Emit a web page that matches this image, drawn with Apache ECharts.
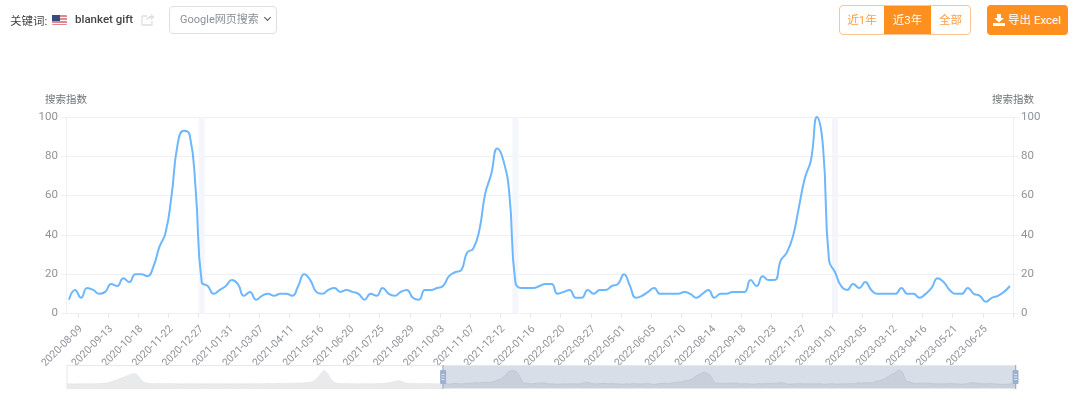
<!DOCTYPE html>
<html><head><meta charset="utf-8">
<script src="https://cdn.jsdelivr.net/npm/echarts@6/dist/echarts.min.js"></script>
<style>
html,body{margin:0;padding:0;background:#fff;width:1080px;height:407px;overflow:hidden;font-family:Roboto,"Noto Sans CJK SC",sans-serif}
#chart{position:absolute;left:0;top:0;width:1080px;height:407px}
.t{position:absolute;white-space:nowrap}
.flag{position:absolute;left:52px;top:15px;width:15px;height:10px;background:repeating-linear-gradient(#d98a8f 0 2px,#fff 2px 3px);border-radius:1px}
.flag:before{content:"";position:absolute;left:0;top:0;width:8px;height:6px;background:#3a4a7c}
.sel{position:absolute;left:169px;top:6px;width:108px;height:28px;border:1px solid #dcdfe6;border-radius:4px;box-sizing:border-box;font-size:11px;color:#8a8f98;line-height:26px;padding-left:10px}
.sel:after{content:"";position:absolute;right:6px;top:8px;width:4px;height:4px;border-right:1.6px solid #555;border-bottom:1.6px solid #555;transform:rotate(45deg)}
.group{position:absolute;left:839px;top:5px;width:132px;height:30px;border:1px solid #fdc58f;border-radius:4px;box-sizing:border-box;display:flex;font-size:11.5px;color:#ff9f45;line-height:28px;text-align:center}
.group div{flex:none;width:44px}.group .on{background:#ff9020;color:#fff;width:47px}.group .last{width:39px}
.xl{position:absolute;left:987px;top:5px;width:81px;height:30px;background:#ff9020;border-radius:4px;color:#fff;font-size:11.5px;line-height:30px;text-align:right;padding-right:7px;box-sizing:border-box}
.xl svg{position:absolute;left:6px;top:9px}
</style></head>
<body>
<div id="chart"></div>
<div class="t" style="left:10px;top:12px;font-size:11.5px;color:#444">关键词:</div>
<div class="flag"></div>
<div class="t" style="left:75px;top:12px;font-size:11.5px;font-weight:500;color:#444">blanket gift</div>
<svg class="t" style="left:141px;top:13px" width="14" height="13" viewBox="0 0 14 13"><path d="M1 3h5M1 3v9h10V8" fill="none" stroke="#dcdfe4" stroke-width="1.3"/><path d="M5 8c0-3 3-5 5-5V1l3.500 3L10 7V5C8 5 6 6 5 8z" fill="#dcdfe4"/></svg>
<div class="sel">Google网页搜索</div>
<div class="group"><div>近1年</div><div class="on">近3年</div><div class="last">全部</div></div>
<div class="xl"><svg width="12" height="12" viewBox="0 0 12 12"><path d="M4 0h4v4h3L6 8.500 1 4h3zM0 9h12v3H0z" fill="#fff"/></svg>导出 Excel</div>
<script>
// Weekly search index. Earlier weeks are only visible in the slider overview.
const firstWeek = '2018-08-12';
const earlyValues = [
  10,10,9,10,10,11,10,11,11,12,12,15,22,30,38,47,56,66,74,
  72,42,20,13,11,11,12,11,11,12,11,11,10,10,11,10,11,11,10,10,
  11,11,10,11,11,10,10,11,11,10,10,11,10,11,11,12,12,11,12,12,
  13,13,14,14,15,15,17,19,27,42,72,96,74,32,15,12,11,12,11,11,
  10,10,11,10,11,11,12,13,16,18,25,30,26,16,13,12,12,11,11,12,
  11,11,10
];
const visibleValues = [
  7,12,8,13,12,10,11,15,14,18,16,20,20,19,24,34,41,60,86,93,
  91,63,16,14,10,12,14,17,15,9,11,7,9,10,9,10,10,9,14,20,
  17,11,10,12,13,11,12,11,10,7,10,9,13,10,9,11,12,8,7,12,
  12,13,14,19,21,22,31,33,42,61,71,84,78,61,16,13,13,13,14,15,
  15,10,11,12,8,8,12,10,12,12,14,15,20,14,8,9,11,13,10,10,
  10,10,11,10,8,10,12,8,10,10,11,11,11,17,14,19,17,17,27,31,
  39,54,69,78,100,85,27,21,14,12,15,13,16,12,10,10,10,10,13,10,
  10,8,10,13,18,16,12,10,10,13,10,9,6,8,9,11,14
];
const searchIndex = earlyValues.concat(visibleValues);
const holidayWeeks = ['2020-12-27','2021-12-26','2023-01-01'];
const tickEveryWeeks = 5;
const firstLabelWeek = '2020-08-09';

const categories = [];
{
  const d = new Date(firstWeek + 'T00:00:00Z');
  for (let i = 0; i < searchIndex.length; i++) {
    categories.push(d.toISOString().slice(0,10));
    d.setUTCDate(d.getUTCDate() + 7);
  }
}
const firstLabelIdx = categories.indexOf(firstLabelWeek);
const holidayBars = categories.map(c => holidayWeeks.includes(c) ? 100 : null);
const startIdx = earlyValues.length;
const endIdx = categories.length - 1;

const chart = echarts.init(document.getElementById('chart'), null, {renderer:'canvas'});
const axisLabelColor = '#8f9299', lineColor = '#eef0f5';
const yAxisBase = {
  type:'value', min:0, max:100, interval:20, name:'搜索指数',
  nameGap:11, nameTextStyle:{color:'#707378',fontSize:10.500,fontFamily:'Roboto,"Noto Sans CJK SC"'},
  axisLine:{show:true,lineStyle:{color:lineColor}},
  axisTick:{show:true,length:5,lineStyle:{color:lineColor}},
  axisLabel:{color:axisLabelColor,fontSize:11.500,fontFamily:'Roboto'}
};
const onTick = (i)=>((i-firstLabelIdx)%tickEveryWeeks+tickEveryWeeks)%tickEveryWeeks===0;
chart.setOption({
  animation:false,
  grid:{left:66,right:67,top:117,bottom:93.5,containLabel:false},
  xAxis:{
    type:'category', data:categories, boundaryGap:true,
    axisLine:{lineStyle:{color:lineColor}},
    axisTick:{show:true,length:4,lineStyle:{color:'#e3e5ea'},interval:onTick},
    axisLabel:{rotate:45,color:axisLabelColor,fontSize:10.500,margin:14,fontFamily:'Roboto',hideOverlap:false,interval:onTick},
    splitLine:{show:false}
  },
  yAxis:[
    Object.assign({},yAxisBase,{position:'left',splitLine:{show:true,lineStyle:{color:lineColor,width:1.200}}}),
    Object.assign({},yAxisBase,{position:'right',splitLine:{show:false}})
  ],
  dataZoom:[{
    type:'slider', xAxisIndex:0, startValue:startIdx, endValue:endIdx,
    left:64, right:66, top:365, height:24,
    backgroundColor:'#fff', borderColor:'#e6e8ec', borderRadius:0,
    fillerColor:'rgba(120,142,176,0.29)',
    dataBackground:{lineStyle:{color:'#dcdee2',width:0.500},areaStyle:{color:'#a7abb2',opacity:0.25}},
    selectedDataBackground:{lineStyle:{color:'#c8cdd8',width:0.500},areaStyle:{color:'#a0a8b8',opacity:0.22}},
    handleIcon:'path://M2.500,0 H3.500 V5 H5 Q6,5 6,6 V18 Q6,19 5,19 H3.500 V24 H2.500 V19 H1 Q0,19 0,18 V6 Q0,5 1,5 H2.500 Z M1.500,9 V10 H4.500 V9 Z M1.500,11.500 V12.500 H4.500 V11.500 Z M1.500,14 V15 H4.500 V14 Z',
    handleSize:24,
    handleStyle:{color:'#9db0cf',borderColor:'#9db0cf',borderWidth:0},
    moveHandleSize:0, showDetail:false, brushSelect:false, zoomLock:false,
    emphasis:{handleStyle:{color:'#9db0cf',borderColor:'#9db0cf'}}
  }],
  series:[
    {name:'搜索指数',type:'line',data:searchIndex,smooth:true,showSymbol:false,symbol:'none',z:3,
      lineStyle:{color:'#6db7ff',width:2},itemStyle:{color:'#6db7ff'}},
    {name:'节假日',type:'bar',data:holidayBars,barWidth:'100%',silent:true,z:1,
      itemStyle:{color:'#f4f6fb'}}
  ]
});
</script>
</body></html>
